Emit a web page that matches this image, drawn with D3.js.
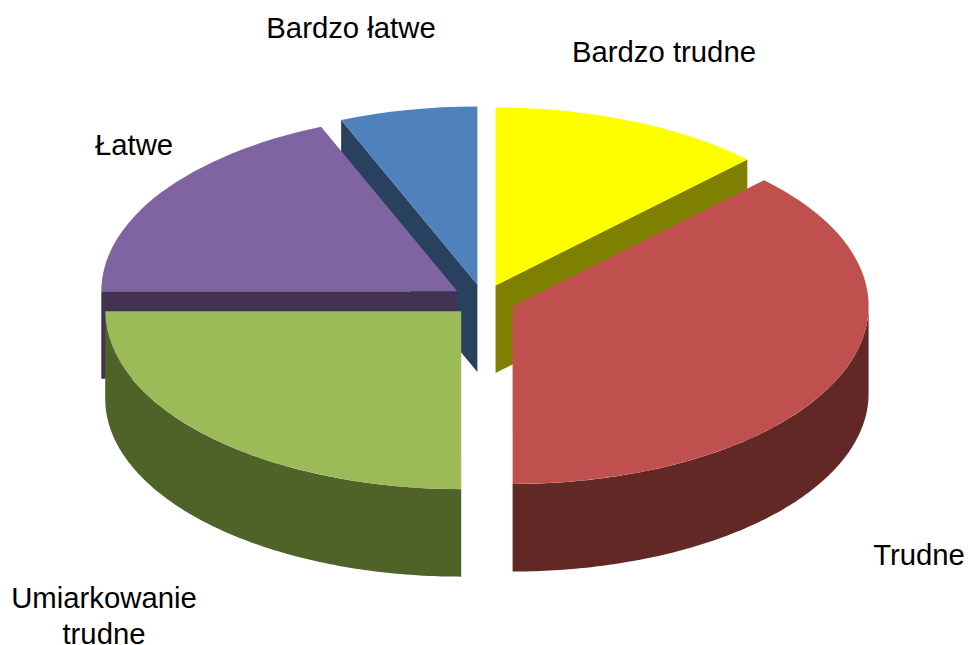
<!DOCTYPE html>
<html>
<head>
<meta charset="utf-8">
<style>
  html, body { margin: 0; padding: 0; background: #fff; }
  svg { display: block; }
  text { font-family: "Liberation Sans", Arial, sans-serif; font-size: 29.3px; fill: #000; }
</style>
<script src="https://cdn.jsdelivr.net/npm/d3@7"></script>
</head>
<body>
<svg id="chart" width="968" height="645"></svg>
<script>
// Survey answers, clockwise from twelve o'clock
const categories = ["Bardzo trudne", "Trudne", "Umiarkowanie trudne", "Łatwe", "Bardzo łatwe"];
const values = [2, 6, 4, 3, 1];

const topColors = ["#FFFF00", "#C0504D", "#9BBB59", "#8064A2", "#4F81BD"];
const wallColors = ["#808000", "#622826", "#4F6228", "#433252", "#27415F"];

// Label lines and their centre/baseline anchors
const labelLines = [["Bardzo trudne"], ["Trudne"], ["Umiarkowanie", "trudne"], ["Łatwe"], ["Bardzo łatwe"]];
const labelAnchors = [[664, 62], [919, 565], [104, 608], [134, 155], [351, 38]];
const labelLeading = 35.5;

// Tilted-disc geometry
const centerX = 483.5, centerY = 300;
const radiusX = 356, tilt = 0.5, depth = 87.5, explode = 31.5;

// Painted back to front so nearer slices cover the walls behind them
const paintOrder = [4, 3, 0, 1, 2];

const svg = d3.select("#chart");
const arcs = d3.pie().sort(null).value(d => d)(values);
const arcGen = d3.arc().innerRadius(0).outerRadius(radiusX);

function rim(angle, offset) {
  return [radiusX * Math.sin(angle), -radiusX * tilt * Math.cos(angle) + offset];
}

const wallArea = d3.area()
  .x(a => radiusX * Math.sin(a))
  .y0(a => -radiusX * tilt * Math.cos(a))
  .y1(a => -radiusX * tilt * Math.cos(a) + depth);

function cutWall(angle) {
  const p = rim(angle, 0);
  return d3.line()([[0, 0], p, [p[0], p[1] + depth], [0, depth]]) + "Z";
}

paintOrder.forEach(i => {
  const arc = arcs[i];
  const mid = (arc.startAngle + arc.endAngle) / 2;
  const dx = explode * Math.sin(mid);
  const dy = -explode * tilt * Math.cos(mid);
  const g = svg.append("g")
    .attr("transform", `translate(${centerX + dx},${centerY + dy})`);

  // Side faces showing through the gaps between slices
  if (Math.sin(arc.startAngle) < -1e-6) {
    g.append("path").attr("d", cutWall(arc.startAngle)).attr("fill", wallColors[i]);
  }
  if (Math.sin(arc.endAngle) > 1e-6) {
    g.append("path").attr("d", cutWall(arc.endAngle)).attr("fill", wallColors[i]);
  }

  // Curved outer face, front half only
  const from = Math.max(arc.startAngle, Math.PI / 2);
  const to = Math.min(arc.endAngle, 3 * Math.PI / 2);
  if (to > from) {
    const steps = d3.range(0, 121).map(k => from + (to - from) * k / 120);
    g.append("path").attr("d", wallArea(steps)).attr("fill", wallColors[i]);
  }

  // Top face
  g.append("path")
    .attr("transform", `scale(1,${tilt})`)
    .attr("d", arcGen(arc))
    .attr("fill", topColors[i]);
});

// Category labels
svg.append("g").selectAll("text")
  .data(categories)
  .join("text")
  .attr("text-anchor", "middle")
  .each(function (d, i) {
    d3.select(this).selectAll("tspan")
      .data(labelLines[i])
      .join("tspan")
      .attr("x", labelAnchors[i][0])
      .attr("y", (line, k) => labelAnchors[i][1] + k * labelLeading)
      .text(line => line);
  });
</script>
</body>
</html>
